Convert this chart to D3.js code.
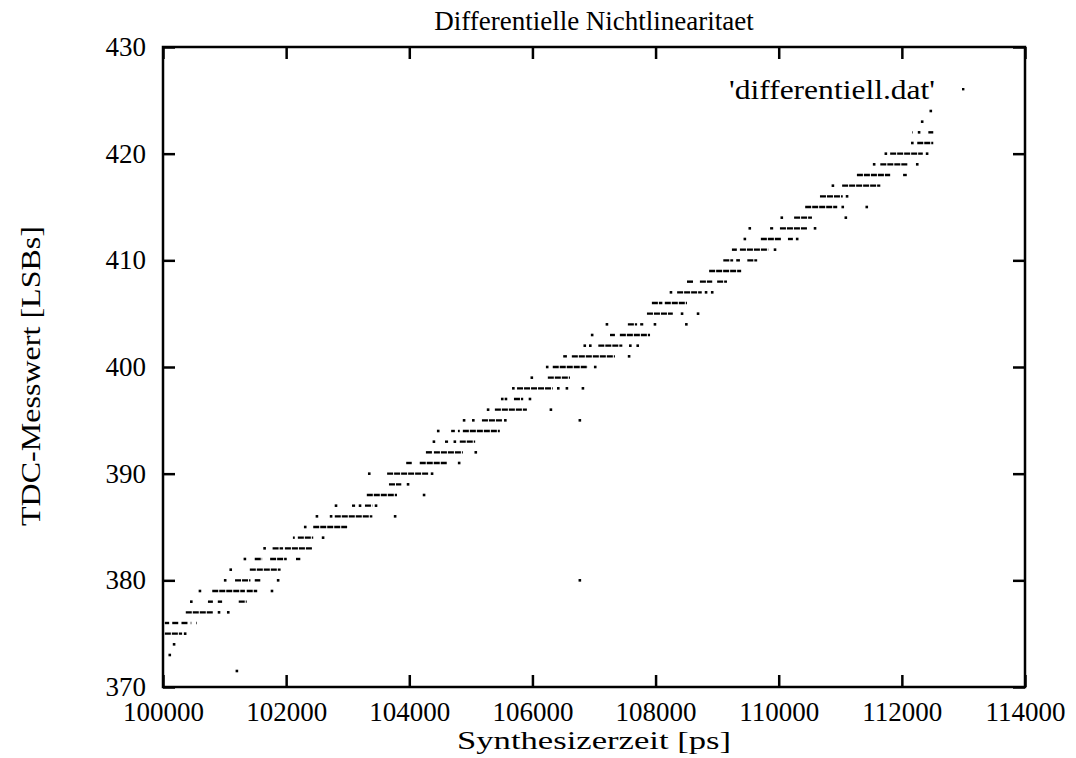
<!DOCTYPE html>
<html>
<head>
<meta charset="utf-8">
<script src="https://cdn.jsdelivr.net/npm/d3@7"></script>
<style>
  html, body { margin: 0; padding: 0; background: #fff; }
  svg { display: block; }
  text { font-family: "Liberation Serif", "DejaVu Serif", "Times New Roman", serif; fill: #000; }
</style>
</head>
<body>
<svg id="chart" width="1076" height="758"></svg>
<script>
// Axis ranges and tick values
const xTicks = [100000, 102000, 104000, 106000, 108000, 110000, 112000, 114000];
const yTicks = [370, 380, 390, 400, 410, 420, 430];

// TDC output codes (LSB) that appear in the measurement
const tdcCodes = [373, 374, 375, 376, 377, 378, 379, 380, 381, 382, 383, 384, 385, 386, 387, 388,
  389, 390, 391, 392, 393, 394, 395, 396, 397, 398, 399, 400, 401, 402, 403, 404, 405, 406, 407,
  408, 409, 410, 411, 412, 413, 414, 415, 416, 417, 418, 419, 420, 421, 422, 423, 424];

// For each code: synthesizer-time intervals [from, to] in ps where that code was measured.
// A single-sample hit has from === to.
const codeHits = [
  [[100110, 100110]],
  [[100180, 100180]],
  [[100030, 100310], [100360, 100360]],
  [[100030, 100100], [100150, 100250], [100300, 100400], [100450, 100460], [100540, 100550]],
  [[100370, 100810], [100910, 100910], [101060, 101060]],
  [[100460, 100460], [100730, 100810], [100890, 100960], [101230, 101360]],
  [[100600, 100600], [100800, 101330], [101360, 101530], [101770, 101770]],
  [[101010, 101010], [101170, 101420], [101490, 101580], [101870, 101870]],
  [[101100, 101100], [101410, 101910]],
  [[101330, 101330], [101490, 101610], [101740, 102010], [102160, 102230]],
  [[101650, 101650], [101780, 101950], [101980, 102420]],
  [[102110, 102140], [102190, 102440], [102600, 102600]],
  [[102310, 102310], [102440, 102990]],
  [[102500, 102500], [102730, 102730], [102790, 103400], [103770, 103770]],
  [[102810, 102810], [103070, 103120], [103200, 103200], [103280, 103400], [103460, 103460]],
  [[103310, 103800], [104240, 104240]],
  [[103670, 103870], [103980, 103980]],
  [[103350, 103350], [103640, 104320], [104370, 104370]],
  [[103950, 104040], [104170, 104610], [104810, 104810]],
  [[104270, 104370], [104400, 104870], [105080, 105080]],
  [[104400, 104400], [104580, 104630], [104740, 104740], [104820, 105070]],
  [[104470, 104470], [104680, 104740], [104790, 104820], [104870, 105470]],
  [[104890, 104890], [105040, 105040], [105180, 105510], [105560, 105560]],
  [[105280, 105280], [105390, 105910], [106300, 106300]],
  [[105510, 105510], [105570, 105570], [105700, 105850], [105960, 105960]],
  [[105690, 105690], [105750, 106330], [106420, 106420], [106560, 106560], [106820, 106820]],
  [[105990, 105990], [106250, 106610]],
  [[106240, 106240], [106330, 106900], [107020, 107020]],
  [[106500, 106560], [106640, 107340], [107570, 107570]],
  [[106850, 106850], [106940, 106940], [107070, 107460], [107590, 107590], [107710, 107710]],
  [[106970, 106970], [107260, 107340], [107420, 107910]],
  [[107210, 107210], [107550, 107700], [107750, 107800], [107990, 107990], [108500, 108500]],
  [[107860, 108280], [108430, 108430], [108690, 108690]],
  [[107940, 108110], [108150, 108510]],
  [[108250, 108250], [108350, 108750], [108820, 108820], [108920, 108920]],
  [[108510, 108610], [108720, 108920], [109000, 109160]],
  [[108870, 109390]],
  [[109100, 109260], [109310, 109370], [109490, 109650]],
  [[109240, 109320], [109370, 109830], [109940, 109940]],
  [[109450, 109450], [109710, 110050], [110150, 110230], [110300, 110300]],
  [[109530, 109530], [109860, 109910], [110020, 110460], [110590, 110590]],
  [[110050, 110050], [110250, 110540], [111090, 111090]],
  [[110430, 110950], [111040, 111040], [111430, 111430]],
  [[110670, 111040], [111110, 111110]],
  [[110880, 110880], [111030, 111650]],
  [[111270, 111810], [112020, 112080]],
  [[111550, 111550], [111650, 112100], [112250, 112250]],
  [[111740, 111740], [111810, 112340], [112410, 112410]],
  [[112170, 112170], [112250, 112510]],
  [[112170, 112180], [112280, 112280], [112430, 112510]],
  [[112330, 112330]],
  [[112470, 112470]]
];

// Stray single readings far from the main staircase: time (ps) and code
const strayTimes = [101200, 106770, 106770];
const strayCodes = [371.5, 395, 380];

const titleText = "Differentielle Nichtlinearitaet";
const xLabel = "Synthesizerzeit [ps]";
const yLabel = "TDC-Messwert [LSBs]";
const keyText = "'differentiell.dat'";

const svg = d3.select("#chart");
const W = 1076, H = 758;
const margin = { left: 163, right: 51, top: 47, bottom: 71 };

const x = d3.scaleLinear().domain([100000, 114000]).range([margin.left, W - margin.right]);
const y = d3.scaleLinear().domain([370, 430]).range([H - margin.bottom, margin.top]);

// Flatten hits into segments
const segments = [];
tdcCodes.forEach((code, i) => {
  codeHits[i].forEach(([a, b]) => segments.push({ code, a, b }));
});

const plot = svg.append("g");

// Runs of consecutive samples
plot.selectAll("line.run")
  .data(segments.filter(s => s.b > s.a))
  .join("line")
  .attr("class", "run")
  .attr("x1", d => x(d.a))
  .attr("x2", d => x(d.b))
  .attr("y1", d => y(d.code))
  .attr("y2", d => y(d.code))
  .attr("stroke", "#000")
  .attr("stroke-width", 2.4)
  .attr("stroke-dasharray", "6,1");

// Single samples
const singles = segments.filter(s => s.b === s.a)
  .map(s => ({ t: s.a, code: s.code }))
  .concat(strayTimes.map((t, i) => ({ t, code: strayCodes[i] })));

plot.selectAll("rect.dot")
  .data(singles)
  .join("rect")
  .attr("class", "dot")
  .attr("x", d => x(d.t) - 1.3)
  .attr("y", d => y(d.code) - 1.3)
  .attr("width", 2.6)
  .attr("height", 2.6)
  .attr("fill", "#000");

// Axes: ticks drawn inward on all four sides
const tickLen = 12;
const fs = 27;

const xAxis = svg.append("g")
  .attr("transform", `translate(0,${H - margin.bottom})`)
  .call(d3.axisBottom(x).tickValues(xTicks).tickFormat(d3.format("d"))
    .tickSizeInner(-tickLen).tickSizeOuter(0).tickPadding(15));
const xAxisTop = svg.append("g")
  .attr("transform", `translate(0,${margin.top})`)
  .call(d3.axisTop(x).tickValues(xTicks).tickFormat("")
    .tickSizeInner(-tickLen).tickSizeOuter(0));
const yAxis = svg.append("g")
  .attr("transform", `translate(${margin.left},0)`)
  .call(d3.axisLeft(y).tickValues(yTicks).tickFormat(d3.format("d"))
    .tickSizeInner(-tickLen).tickSizeOuter(0).tickPadding(17));
const yAxisRight = svg.append("g")
  .attr("transform", `translate(${W - margin.right},0)`)
  .call(d3.axisRight(y).tickValues(yTicks).tickFormat("")
    .tickSizeInner(-tickLen).tickSizeOuter(0));

[xAxis, xAxisTop, yAxis, yAxisRight].forEach(g => {
  g.select(".domain").remove();
  g.selectAll(".tick line").attr("stroke", "#000").attr("stroke-width", 2.5);
  g.selectAll(".tick text")
    .style("font-family", '"Liberation Serif", "DejaVu Serif", serif')
    .style("font-size", fs + "px")
    .attr("fill", "#000");
});

// Plot frame
svg.append("rect")
  .attr("x", margin.left)
  .attr("y", margin.top)
  .attr("width", W - margin.left - margin.right)
  .attr("height", H - margin.top - margin.bottom)
  .attr("fill", "none")
  .attr("stroke", "#000")
  .attr("stroke-width", 2.5);

// Title and axis labels
svg.append("text")
  .attr("x", (margin.left + W - margin.right) / 2)
  .attr("y", 30)
  .attr("text-anchor", "middle")
  .style("font-size", "27px")
  .text(titleText);

svg.append("text")
  .attr("x", 594)
  .attr("y", 749)
  .attr("text-anchor", "middle")
  .style("font-size", "26px")
  .attr("textLength", 274)
  .attr("lengthAdjust", "spacingAndGlyphs")
  .text(xLabel);

svg.append("text")
  .attr("transform", `translate(40,376) rotate(-90)`)
  .attr("text-anchor", "middle")
  .style("font-size", "28px")
  .attr("textLength", 300)
  .attr("lengthAdjust", "spacingAndGlyphs")
  .text(yLabel);

// Key entry
svg.append("text")
  .attr("x", 935)
  .attr("y", 99)
  .attr("text-anchor", "end")
  .style("font-size", "28px")
  .attr("textLength", 206)
  .attr("lengthAdjust", "spacingAndGlyphs")
  .text(keyText);
svg.append("rect")
  .attr("x", 962)
  .attr("y", 88)
  .attr("width", 2.4)
  .attr("height", 2.4)
  .attr("fill", "#000");
</script>
</body>
</html>
